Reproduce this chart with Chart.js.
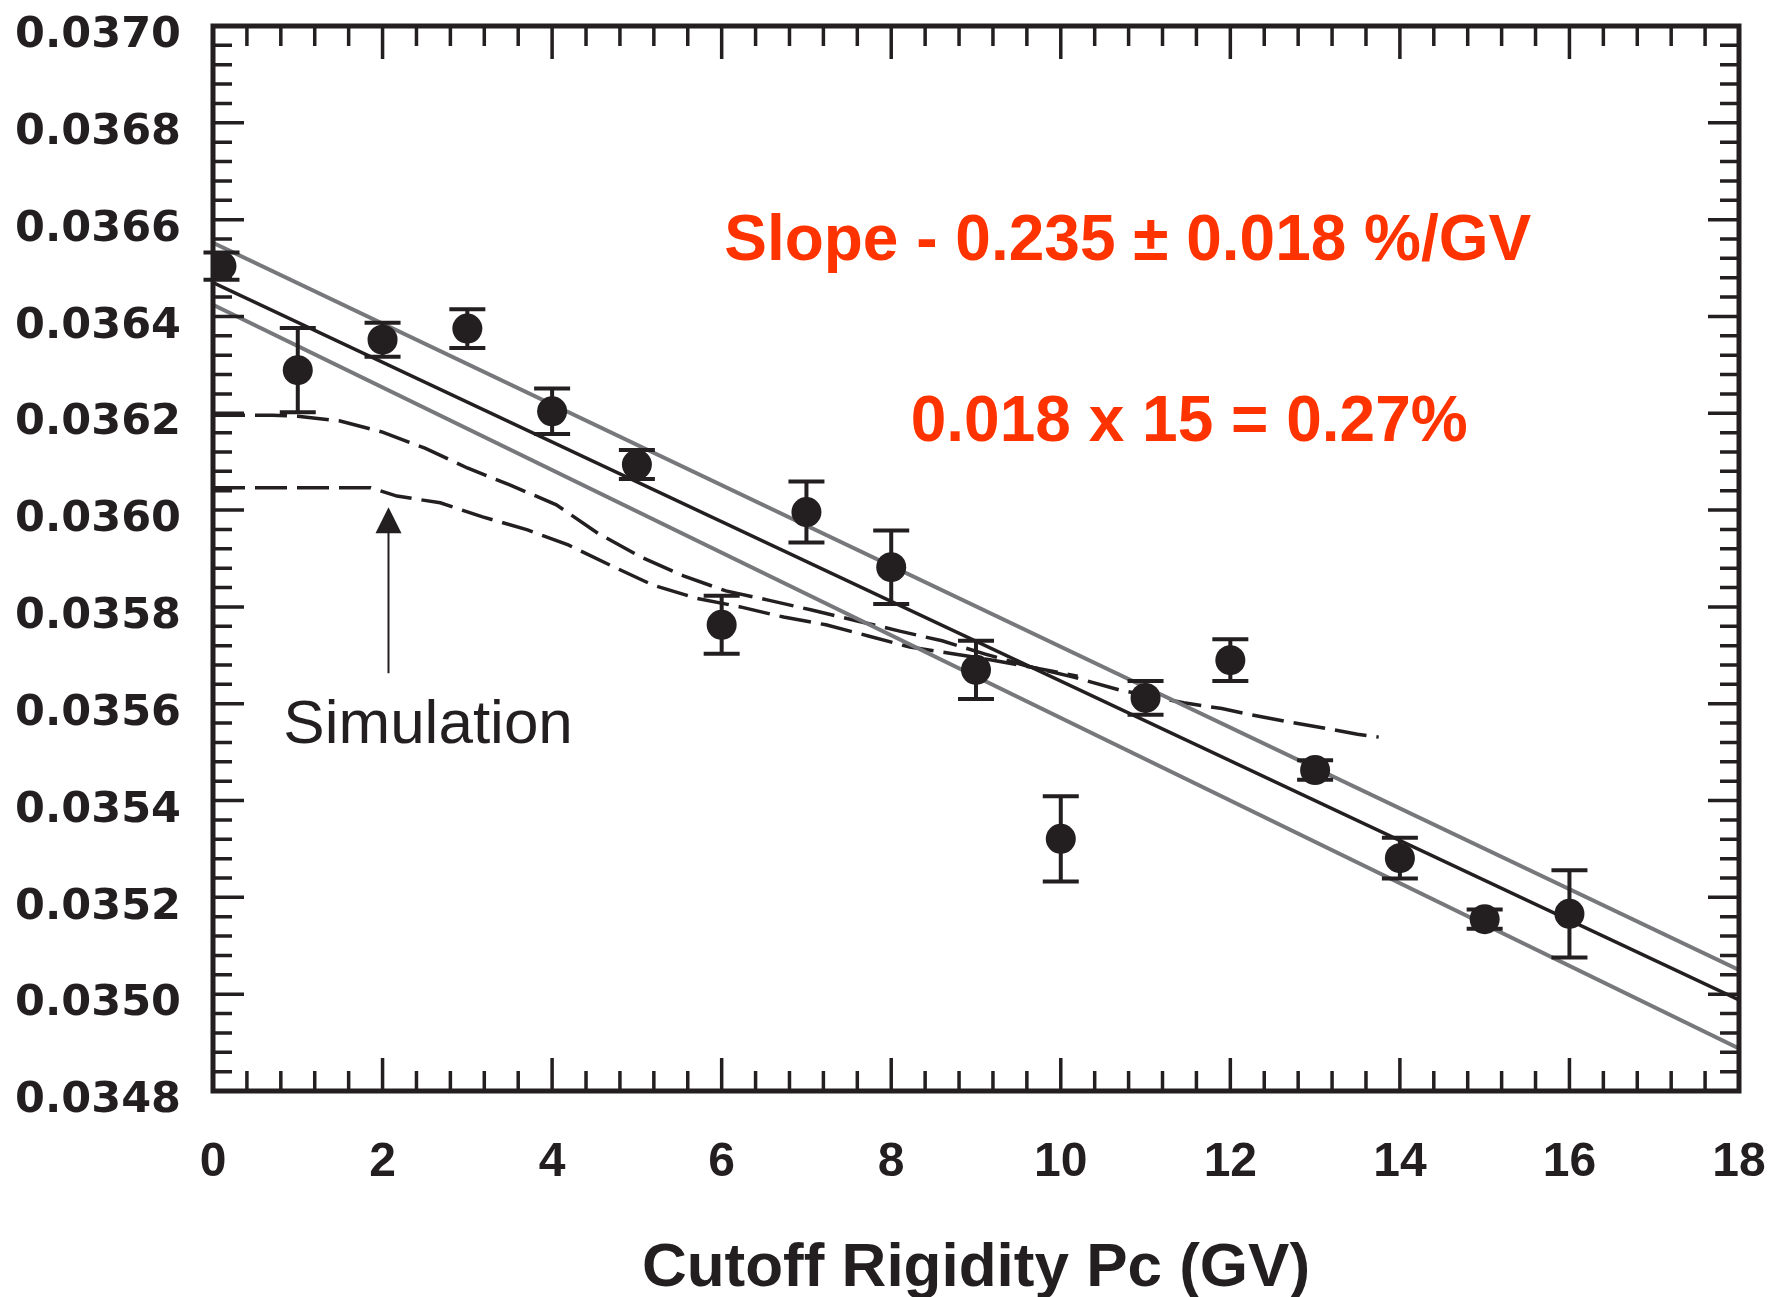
<!DOCTYPE html>
<html>
<head>
<meta charset="utf-8">
<script src="https://cdn.jsdelivr.net/npm/chart.js@4.4.1/dist/chart.umd.min.js"></script>
<style>
  html, body { margin: 0; padding: 0; background: #fff; }
</style>
</head>
<body>
<canvas id="myChart" width="1773" height="1297"></canvas>
<script>
// measured points (cutoff rigidity in GV, rate)
const rigidity = [0.1, 1, 2, 3, 4, 5, 6, 7, 8, 9, 10, 11, 12, 13, 14, 15, 16];
const rate = [0.036504, 0.036289, 0.036352, 0.036375, 0.036204, 0.036094, 0.035763, 0.035996, 0.035882,
              0.035670, 0.035321, 0.035612, 0.035690, 0.035463, 0.035281, 0.035155, 0.035166];
const rateErr = [0.000028, 0.000087, 0.000035, 0.00004, 0.000047, 0.00003, 0.00006, 0.000063, 0.000076,
                 0.00006, 0.000088, 0.000035, 0.000043, 0.00002, 0.000042, 0.00002, 0.00009];

// linear fit and its band
const fitX = [0, 18];
const fitCentral = [0.036470, 0.034988];
const fitUpper = [0.036552, 0.035050];
const fitLower = [0.036424, 0.034888];

// two simulation curves (dashed)
const simAx = [0, 0.7, 1.0, 1.5, 2.0, 2.5, 3.0, 3.5, 4.05, 4.55, 5.05, 5.55, 6.05, 6.55, 7.05, 7.6, 8.1, 8.6,
               9.1, 9.6, 10.15, 10.7, 11.45, 11.9, 12.25, 12.7, 13.1, 13.5, 13.75];
const simAy = [0.036196, 0.036196, 0.036194, 0.036184, 0.036161, 0.036128, 0.036087, 0.036052, 0.036011,
               0.035951, 0.035903, 0.035864, 0.035833, 0.035814, 0.035794, 0.035771, 0.035750, 0.035730,
               0.035703, 0.035678, 0.035655, 0.035628, 0.035602, 0.035590, 0.035577, 0.035562, 0.035550,
               0.035537, 0.035531];
const simBx = [0, 1.86, 2.17, 2.68, 3.18, 3.71, 4.19, 4.7, 5.19, 5.7, 6.22, 6.73, 7.23, 7.73, 8.22, 8.67,
               9.2, 9.7, 10.2];
const simBy = [0.036046, 0.036046, 0.036029, 0.036015, 0.035986, 0.035959, 0.035928, 0.035885, 0.035845,
               0.035818, 0.035800, 0.035779, 0.035763, 0.035740, 0.035717, 0.035705, 0.035690, 0.035674,
               0.035657];

const xTicks = [0, 2, 4, 6, 8, 10, 12, 14, 16, 18];
const yTicks = [0.0348, 0.0350, 0.0352, 0.0354, 0.0356, 0.0358, 0.0360, 0.0362, 0.0364, 0.0366, 0.0368, 0.0370];

const ink = '#231f20';
const grey = '#77787b';
const red = '#ff3300';

const pts = (xs, ys) => xs.map((x, i) => ({ x: x, y: ys[i] }));

// frame, inward ticks, error bars, arrow and the notes
const decorations = {
    id: 'decorations',
    afterDatasetsDraw(chart) {
        const { ctx, chartArea: a, scales: { x, y } } = chart;
        ctx.save();
        ctx.strokeStyle = ink;
        ctx.lineCap = 'butt';

        // error bars
        ctx.lineWidth = 4;
        rigidity.forEach((r, i) => {
            const px = x.getPixelForValue(r);
            const hi = y.getPixelForValue(rate[i] + rateErr[i]);
            const lo = y.getPixelForValue(rate[i] - rateErr[i]);
            ctx.beginPath();
            ctx.moveTo(px, hi); ctx.lineTo(px, lo);
            ctx.moveTo(px - 18, hi); ctx.lineTo(px + 18, hi);
            ctx.moveTo(px - 18, lo); ctx.lineTo(px + 18, lo);
            ctx.stroke();
        });

        // ticks pointing inside the frame
        ctx.lineWidth = 3.5;
        ctx.beginPath();
        for (let k = 0; k <= 45; k++) {
            const px = x.getPixelForValue(k * 0.4);
            const len = k % 5 === 0 ? 33 : 20;
            ctx.moveTo(px, a.bottom); ctx.lineTo(px, a.bottom - len);
            ctx.moveTo(px, a.top); ctx.lineTo(px, a.top + len);
        }
        for (let k = 0; k <= 55; k++) {
            const py = y.getPixelForValue(0.0348 + k * 0.00004);
            const len = k % 5 === 0 ? 31 : 19;
            ctx.moveTo(a.left, py); ctx.lineTo(a.left + len, py);
            ctx.moveTo(a.right, py); ctx.lineTo(a.right - len, py);
        }
        ctx.stroke();

        ctx.lineWidth = 5;
        ctx.strokeRect(a.left, a.top, a.width, a.height);

        // arrow pointing at the simulation curve
        const ax = x.getPixelForValue(2.07);
        const tip = y.getPixelForValue(0.036006);
        const tail = y.getPixelForValue(0.035663);
        ctx.lineWidth = 2;
        ctx.beginPath();
        ctx.moveTo(ax, tail); ctx.lineTo(ax, tip + 20);
        ctx.stroke();
        ctx.fillStyle = ink;
        ctx.beginPath();
        ctx.moveTo(ax, tip);
        ctx.lineTo(ax - 13, tip + 26);
        ctx.lineTo(ax + 13, tip + 26);
        ctx.closePath();
        ctx.fill();

        ctx.textAlign = 'left';
        ctx.textBaseline = 'alphabetic';
        ctx.font = '62px "Liberation Sans", Arial, sans-serif';
        ctx.fillText('Simulation', x.getPixelForValue(0.83), y.getPixelForValue(0.035519));

        ctx.fillStyle = red;
        ctx.font = 'bold 64px "Liberation Sans", Arial, sans-serif';
        ctx.fillText('Slope - 0.235 \u00b1 0.018 %/GV', x.getPixelForValue(6.03), y.getPixelForValue(0.036517));
        ctx.fillText('0.018 x 15 = 0.27%', x.getPixelForValue(8.23), y.getPixelForValue(0.036143));
        ctx.restore();
    }
};

const ctx = document.getElementById('myChart').getContext('2d');

new Chart(ctx, {
    type: 'scatter',
    data: {
        datasets: [
            {
                label: 'data',
                data: pts(rigidity, rate),
                pointRadius: 15,
                pointBackgroundColor: ink,
                pointBorderWidth: 0,
                showLine: false
            },
            {
                label: 'fit',
                data: pts(fitX, fitCentral),
                showLine: true, borderColor: ink, borderWidth: 3.5, pointRadius: 0
            },
            {
                label: 'fit +',
                data: pts(fitX, fitUpper),
                showLine: true, borderColor: grey, borderWidth: 4, pointRadius: 0
            },
            {
                label: 'fit -',
                data: pts(fitX, fitLower),
                showLine: true, borderColor: grey, borderWidth: 4, pointRadius: 0
            },
            {
                label: 'sim A',
                data: pts(simAx, simAy),
                showLine: true, borderColor: ink, borderWidth: 3.5, borderDash: [32, 10], pointRadius: 0
            },
            {
                label: 'sim B',
                data: pts(simBx, simBy),
                showLine: true, borderColor: ink, borderWidth: 3.5, borderDash: [32, 10], pointRadius: 0
            }
        ]
    },
    options: {
        responsive: false,
        animation: false,
        devicePixelRatio: 1,
        layout: { padding: { top: 26, right: 34, left: 0, bottom: 0 } },
        plugins: {
            legend: { display: false },
            tooltip: { enabled: false }
        },
        scales: {
            x: {
                type: 'linear',
                min: 0,
                max: 18,
                grid: { display: false },
                border: { display: false },
                afterBuildTicks: (s) => { s.ticks = xTicks.map(v => ({ value: v })); },
                afterFit: (s) => { s.height = 206; s.paddingLeft = 0; s.paddingRight = 0; },
                ticks: {
                    color: ink,
                    padding: 35,
                    maxRotation: 0,
                    font: { family: '"Liberation Sans Narrow", "Liberation Sans", Arial, sans-serif', size: 48, weight: 'bold' }
                },
                title: {
                    display: true,
                    text: 'Cutoff Rigidity Pc (GV)',
                    color: ink,
                    font: { family: '"Liberation Sans", Arial, sans-serif', size: 62, weight: 'bold' },
                    padding: { top: 0, bottom: -9 }
                }
            },
            y: {
                type: 'linear',
                min: 0.0348,
                max: 0.0370,
                grid: { display: false },
                border: { display: false },
                afterBuildTicks: (s) => { s.ticks = yTicks.map(v => ({ value: v })); },
                afterFit: (s) => { s.width = 213; s.paddingTop = 0; s.paddingBottom = 0; },
                ticks: {
                    color: ink,
                    padding: 24,
                    labelOffset: 10,
                    font: { family: '"DejaVu Sans", sans-serif', size: 43, weight: 'bold' },
                    callback: (v) => Number(v).toFixed(4)
                }
            }
        }
    },
    plugins: [decorations]
});
</script>
</body>
</html>
